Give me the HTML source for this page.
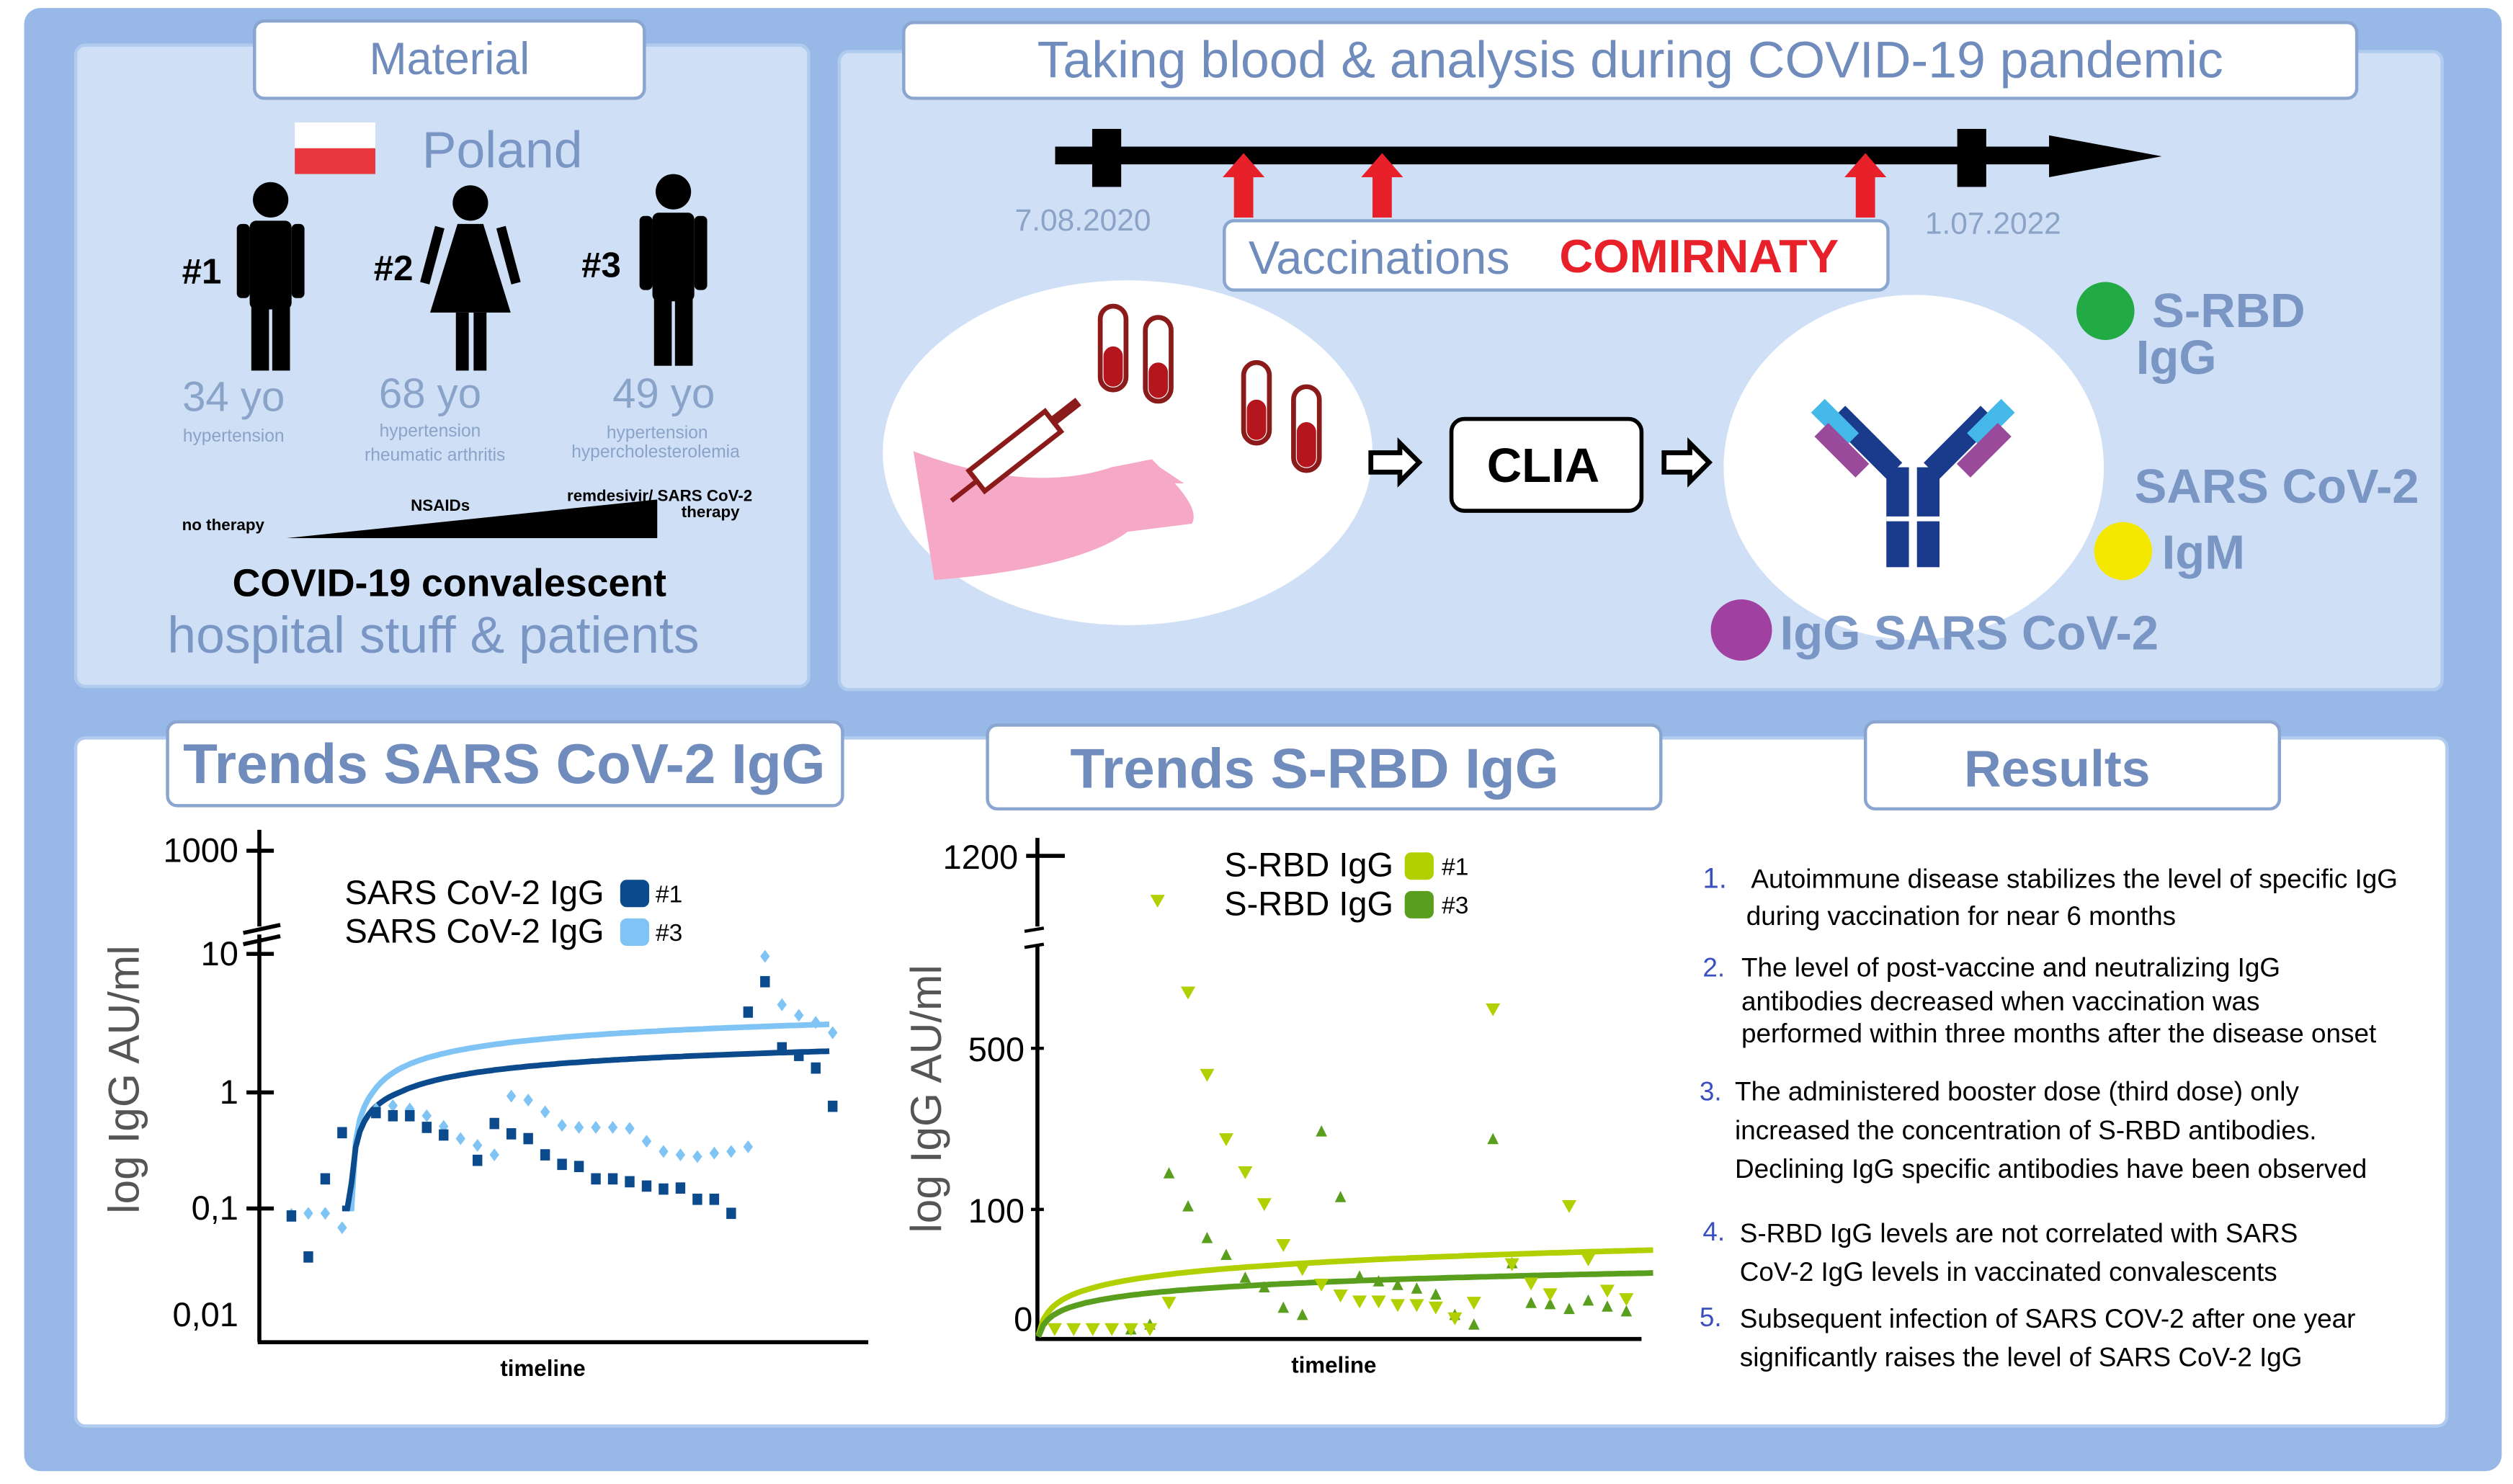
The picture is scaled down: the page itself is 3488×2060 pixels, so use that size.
<!DOCTYPE html>
<html><head><meta charset="utf-8"><style>
html,body{margin:0;padding:0;background:#fff}
svg{display:block}
text{font-family:"Liberation Sans",sans-serif}
</style></head><body>
<svg id="root" width="3488" height="2060" viewBox="0 0 1560 921" preserveAspectRatio="none" xmlns="http://www.w3.org/2000/svg">
<rect x="0" y="0" width="1560" height="921" fill="#fff"/>
<rect x="15" y="5" width="1538" height="908" rx="10" fill="#98b9e8"/>
<!-- top-left panel -->
<rect x="47" y="28" width="455" height="398" rx="6" fill="#cfe0f6" stroke="#b0cbee" stroke-width="2"/>
<rect x="521" y="32" width="995" height="396" rx="6" fill="#cfe0f6" stroke="#b0cbee" stroke-width="2"/>
<rect x="47" y="458" width="1472" height="427" rx="6" fill="#fff" stroke="#b0cbee" stroke-width="2"/>

<!-- titles -->
<g>
<rect x="158" y="13" width="242" height="48" rx="6" fill="#fff" stroke="#8aa6d0" stroke-width="2"/>
<text x="279" y="46" text-anchor="middle" font-size="28" fill="#6f8cbc">Material</text></g>
<g>
<rect x="561" y="14" width="902" height="47" rx="6" fill="#fff" stroke="#8aa6d0" stroke-width="2"/>
<text x="1012" y="48" text-anchor="middle" font-size="32" fill="#6f8cbc">Taking blood &amp; analysis during COVID-19 pandemic</text></g>
<g>
<rect x="104" y="448" width="419" height="52" rx="6" fill="#fff" stroke="#8aa6d0" stroke-width="2"/>
<text x="313" y="486" text-anchor="middle" font-size="35" font-weight="bold" fill="#6f8cbc">Trends SARS CoV-2 IgG</text></g>
<g>
<rect x="613" y="450" width="418" height="52" rx="6" fill="#fff" stroke="#8aa6d0" stroke-width="2"/>
<text x="816" y="489" text-anchor="middle" font-size="35" font-weight="bold" fill="#6f8cbc">Trends S-RBD IgG</text></g>
<g>
<rect x="1158" y="448" width="257" height="54" rx="6" fill="#fff" stroke="#8aa6d0" stroke-width="2"/>
<text x="1277" y="488" text-anchor="middle" font-size="32" font-weight="bold" fill="#6f8cbc">Results</text></g>

<!-- Material panel content -->
<g><rect x="183" y="76" width="50" height="16" fill="#fff"/><rect x="183" y="92" width="50" height="16" fill="#e8383d"/></g>
<text x="262" y="104" font-size="32" fill="#7a96c4">Poland</text>
<g fill="#000">
<circle cx="168" cy="124" r="11"/><rect x="155" y="137" width="26" height="55" rx="4"/><rect x="147" y="139" width="8" height="46" rx="3"/><rect x="181" y="139" width="8" height="46" rx="3"/><rect x="156" y="190" width="11" height="40"/><rect x="169" y="190" width="11" height="40"/></g>
<g fill="#000">
<circle cx="292" cy="126" r="11"/><path d="M284 139h16l17 55h-50z"/><rect x="270" y="141" width="6" height="36" transform="rotate(15 273 141)"/><rect x="308" y="141" width="6" height="36" transform="rotate(-15 311 141)"/><rect x="283" y="194" width="8" height="36"/><rect x="294" y="194" width="8" height="36"/></g>
<g fill="#000">
<circle cx="418" cy="119" r="11"/><rect x="405" y="132" width="26" height="55" rx="4"/><rect x="397" y="134" width="8" height="46" rx="3"/><rect x="431" y="134" width="8" height="46" rx="3"/><rect x="406" y="185" width="11" height="42"/><rect x="419" y="185" width="11" height="42"/></g>
<g font-size="22" font-weight="bold" fill="#000">
<text x="113" y="176">#1</text><text x="232" y="174">#2</text><text x="361" y="172">#3</text></g>
<g fill="#8aa3c8" text-anchor="middle">
<text x="145" y="255" font-size="26">34 yo</text><text x="145" y="274" font-size="11">hypertension</text>
<text x="267" y="253" font-size="26">68 yo</text><text x="267" y="271" font-size="11">hypertension</text><text x="270" y="286" font-size="11">rheumatic arthritis</text>
<text x="412" y="253" font-size="26">49 yo</text><text x="408" y="272" font-size="11">hypertension</text><text x="407" y="284" font-size="11">hypercholesterolemia</text></g>
<path d="M178 334 L408 310 L408 334 Z" fill="#000"/>
<g font-size="10" font-weight="bold" fill="#000">
<text x="113" y="329">no therapy</text><text x="255" y="317">NSAIDs</text><text x="352" y="311">remdesivir/ SARS CoV-2</text><text x="423" y="321">therapy</text></g>
<text x="279" y="370" text-anchor="middle" font-size="24" font-weight="bold" fill="#000">COVID-19 convalescent</text>
<text x="269" y="405" text-anchor="middle" font-size="32" fill="#7a96c4">hospital stuff &amp; patients</text>

<!-- timeline -->
<g>
<rect x="655" y="91" width="625" height="11" fill="#000"/><path d="M1272 84 L1342 97 L1272 110 Z" fill="#000"/>
<rect x="678" y="80" width="18" height="36" fill="#000"/><rect x="1215" y="80" width="18" height="36" fill="#000"/></g>
<g fill="#e8202a">
<path d="M759 110 L772 95 L785 110 L778 110 L778 135 L766 135 L766 110Z"/>
<path d="M845 110 L858 95 L871 110 L864 110 L864 135 L852 135 L852 110Z"/>
<path d="M1145 110 L1158 95 L1171 110 L1164 110 L1164 135 L1152 135 L1152 110Z"/></g>
<text x="630" y="143" font-size="19" fill="#8aa3c6">7.08.2020</text>
<text x="1195" y="145" font-size="19" fill="#8aa3c6">1.07.2022</text>
<g>
<rect x="760" y="137" width="412" height="43" rx="6" fill="#fff" stroke="#8aa6d0" stroke-width="2"/>
<text x="775" y="170" font-size="29" fill="#6f8cbc">Vaccinations</text>
<text x="968" y="169" font-size="29" font-weight="bold" fill="#e8202a">COMIRNATY</text></g>
<ellipse cx="700" cy="281" rx="152" ry="107" fill="#fff"/>
<ellipse cx="1188" cy="290" rx="118" ry="107" fill="#fff"/>
<g>
<path d="M567 280 C620 300 660 300 690 290 L715 285 C730 300 745 315 740 325 L700 330 C680 345 640 355 580 360 Z" fill="#f6a9c6"/>
<path d="M690 290 L720 290 L735 300 L690 300 Z" fill="#f6a9c6"/>
<g transform="rotate(-38 630 280)"><rect x="600" y="272" width="60" height="16" fill="#fff" stroke="#8b1a1a" stroke-width="3"/><rect x="660" y="277" width="20" height="6" fill="#8b1a1a"/><line x1="580" y1="280" x2="600" y2="280" stroke="#8b1a1a" stroke-width="3"/></g></g>
<g fill="#fff" stroke="#8b1a1a" stroke-width="3">
<rect x="683" y="190" width="16" height="52" rx="8"/><rect x="711" y="197" width="16" height="52" rx="8"/><rect x="772" y="225" width="16" height="50" rx="8"/><rect x="803" y="240" width="16" height="52" rx="8"/></g>
<g fill="#b5151c">
<rect x="685" y="215" width="12" height="25" rx="6"/><rect x="713" y="225" width="12" height="22" rx="6"/><rect x="774" y="248" width="12" height="25" rx="6"/><rect x="805" y="262" width="12" height="28" rx="6"/></g>
<g fill="#fff" stroke="#000" stroke-width="3">
<path d="M851 281 H869 V275 L881 287 L869 299 V293 H851 Z"/><path d="M1033 281 H1049 V275 L1061 287 L1049 299 V293 H1033 Z"/></g>
<g><rect x="901" y="260" width="118" height="57" rx="8" fill="#fff" stroke="#000" stroke-width="2.5"/>
<text x="958" y="299" text-anchor="middle" font-size="30" font-weight="bold" fill="#000">CLIA</text></g>
<g>
<rect x="1171" y="290" width="14" height="62" fill="#1a3a8c"/><rect x="1190" y="290" width="14" height="62" fill="#1a3a8c"/>
<line x1="1171" y1="322" x2="1204" y2="322" stroke="#fff" stroke-width="3"/>
<g transform="rotate(-45 1178 290)"><rect x="1168" y="240" width="14" height="50" fill="#1a3a8c"/><rect x="1164" y="228" width="12" height="30" fill="#44b8e8"/><rect x="1155" y="240" width="12" height="36" fill="#9a4a9a"/></g>
<g transform="rotate(45 1197 290)"><rect x="1193" y="240" width="14" height="50" fill="#1a3a8c"/><rect x="1199" y="228" width="12" height="30" fill="#44b8e8"/><rect x="1208" y="240" width="12" height="36" fill="#9a4a9a"/></g></g>
<g font-size="30" font-weight="bold" fill="#7a96c4">
<circle cx="1307" cy="193" r="18" fill="#22aa44"/><text x="1336" y="203">S-RBD</text><text x="1326" y="232">IgG</text>
<text x="1325" y="312">SARS CoV-2</text><circle cx="1318" cy="342" r="18" fill="#f5e800"/><text x="1342" y="353">IgM</text>
<circle cx="1081" cy="391" r="19" fill="#a040a0"/><text x="1105" y="403">IgG  SARS CoV-2</text></g>

<!-- Chart 1 -->
<g id="chart1"></g>
<g id="chart2"></g>

<!-- Results -->
<g font-size="16.5" fill="#000">
<text x="1057" y="551" fill="#3a4fc0" font-size="18">1.</text><text x="1087" y="551">Autoimmune disease stabilizes the level of specific IgG</text><text x="1084" y="574">during vaccination for near 6 months</text>
<text x="1057" y="606" fill="#3a4fc0">2.</text><text x="1081" y="606">The level of post-vaccine and neutralizing IgG</text><text x="1081" y="627">antibodies decreased when vaccination was</text><text x="1081" y="647">performed within three months after the disease onset</text>
<text x="1055" y="683" fill="#3a4fc0">3.</text><text x="1077" y="683">The administered booster dose (third dose) only</text><text x="1077" y="707">increased the concentration of S-RBD antibodies.</text><text x="1077" y="731">Declining IgG specific antibodies have been observed</text>
<text x="1057" y="770" fill="#3a4fc0">4.</text><text x="1080" y="771">S-RBD IgG levels are not correlated with SARS</text><text x="1080" y="795">CoV-2 IgG levels in vaccinated convalescents</text>
<text x="1055" y="823" fill="#3a4fc0">5.</text><text x="1080" y="824">Subsequent infection of SARS COV-2 after one year</text><text x="1080" y="848">significantly raises the level of SARS CoV-2 IgG</text></g>
</svg>
<script>
// ---------- Chart 1 data ----------
const c1Index = [0,1,2,3,4,5,6,7,8,9,10,11,12,13,14,15,16,17,18,19,20,21,22,23,24,25,26,27,28,29,30,31,32];
const c1P1 = [0.085,0.035,0.18,0.45,null,0.67,0.63,0.63,0.5,0.43,null,0.26,0.54,0.44,0.40,0.29,0.24,0.23,0.18,0.18,0.17,0.156,0.147,0.15,0.12,0.12,0.09,3.8,6.3,2.1,1.85,1.5,0.76];
const c1P3 = [0.088,0.09,0.09,0.066,null,0.72,0.77,0.72,0.63,0.51,0.40,0.35,0.29,0.93,0.86,0.68,0.52,0.5,0.5,0.5,0.49,0.38,0.31,0.29,0.28,0.3,0.31,0.34,9.6,4.3,3.6,3.2,2.7];
const c1FitA = [0.44,0.55];   // trend intercepts (#1, #3)
const c1FitB = [0.46,0.76];   // trend slopes vs ln(t)
const c1FitStart = 3;
const c1TickLabels = ["0,01","0,1","1","10","1000"];
const c1TickVals = [0.01,0.1,1,10,1000];

// ---------- Chart 2 data ----------
const c2X1 = [0,1,2,3,4,5,5.4,6,7,8,9,10,11,12,13,14,15,16,17,18,19,20,21,22,23,24,25,26,27,28,29,30];
const c2V1 = [0,0,0,0,0,0,1035,22,701,433,273,191,112,70,50,37,28,23,23,20,20,18,9,22,640,54,38,29,107,58,32,25];
const c2X3 = [4,5,6,7,8,9,10,11,12,13,14,15,16,17,18,19,20,21,22,23,24,25,26,27,28,29,30];
const c2V3 = [0,4,189,107,76,62,43,35,18,12,293,130,44,40,37,34,29,12,4,274,55,22,21,17,24,19,15];
const c2FitA = [20.3,12.7];
const c2FitB = [13.2,9.9];
const c2TickLabels = ["0","100","500","1200"];
const c2TickVals = [0,100,500,1200];

const NS="http://www.w3.org/2000/svg";
function mk(parent,tag,attrs){const e=document.createElementNS(NS,tag);for(const k in attrs)e.setAttribute(k,attrs[k]);parent.appendChild(e);return e;}

// Chart1 axes
const g1=document.getElementById('chart1');
const c1X=i=>180.9+i*10.5;
const c1LogPos=[[-2,816],[-1,750],[0,678],[1,592]];
function c1Y(v){if(v>=100)return 528;const l=Math.log10(v);
 for(let k=0;k<c1LogPos.length-1;k++){const a=c1LogPos[k],b=c1LogPos[k+1];if(l<=b[0]||k==c1LogPos.length-2){return a[1]+(l-a[0])/(b[0]-a[0])*(b[1]-a[1]);}}}
mk(g1,'line',{x1:161,y1:515,x2:161,y2:575,stroke:'#000','stroke-width':2.5});
mk(g1,'line',{x1:161,y1:580,x2:161,y2:833,stroke:'#000','stroke-width':2.5});
mk(g1,'line',{x1:151,y1:579,x2:174,y2:574,stroke:'#000','stroke-width':2.5});
mk(g1,'line',{x1:151,y1:586,x2:174,y2:581,stroke:'#000','stroke-width':2.5});
mk(g1,'line',{x1:160,y1:833,x2:539,y2:833,stroke:'#000','stroke-width':2.5});
c1TickVals.forEach((v,k)=>{const y=c1Y(v);
 if(k>0){const t=mk(g1,'line',{x1:153,y1:y,x2:170,y2:y,stroke:'#000','stroke-width':2.5});
 
 }
 const tx=mk(g1,'text',{x:148,y:y+7,'text-anchor':'end','font-size':21,fill:'#000'});tx.textContent=c1TickLabels[k];
 
 });
{const t=mk(g1,'text',{x:337,y:854,'text-anchor':'middle','font-size':14,'font-weight':'bold'});t.textContent='timeline';


const yt=mk(g1,'text',{x:0,y:0,transform:'translate(86,670) rotate(-90)','text-anchor':'middle','font-size':27,fill:'#555'});yt.textContent='log IgG  AU/ml';

}
// trend lines
[['#0b4a8c',0],['#7fc4f4',1]].reverse().forEach(([col,s])=>{let d='';
 for(let t=0.3;t<=c1Index[c1Index.length-1]-c1FitStart;t+=0.25){const v=Math.max(0.1,c1FitA[s]+c1FitB[s]*Math.log(t));d+=(d?'L':'M')+c1X(c1FitStart+t).toFixed(1)+' '+c1Y(v).toFixed(1);}
 const p=mk(g1,'path',{d:'M'+c1X(c1FitStart)+' '+c1Y(0.1)+' '+d.replace('M','L'),fill:'none',stroke:col,'stroke-width':3.5});
 
 });
c1Index.forEach((i,k)=>{const v=c1P3[k];if(v==null)return;const x=c1X(i),y=c1Y(v);
 const m=mk(g1,'path',{d:`M${x} ${y-4}L${x+3} ${y}L${x} ${y+4}L${x-3} ${y}Z`,fill:'#7fc4f4'});
 
 });
c1Index.forEach((i,k)=>{const v=c1P1[k];if(v==null)return;const x=c1X(i),y=c1Y(v);
 const m=mk(g1,'rect',{x:x-3,y:y-3.5,width:6,height:7,fill:'#0b4a8c'});
 
 });
// legend 1
[['SARS CoV-2 IgG','#0b4a8c','#1',557],['SARS CoV-2 IgG','#7fc4f4','#3',581]].forEach(([l,c,n,y])=>{
 const t=mk(g1,'text',{x:214,y:y+4,'font-size':21});t.textContent=l;
 
 
 const r=mk(g1,'rect',{x:385,y:y-11,width:18,height:17,rx:4,fill:c});
 
 
 const t2=mk(g1,'text',{x:407,y:y+3,'font-size':15});t2.textContent=n;
 
 });

// Chart2
const g2=document.getElementById('chart2');
const c2X=i=>654.7+i*11.83;
function c2Y(v){ if(v<=100)return 825.2-v*0.746; if(v<=500)return 750.6-(v-100)*0.25; return 650.6-(v-500)*0.1706;}
mk(g2,'line',{x1:644,y1:520,x2:644,y2:575,stroke:'#000','stroke-width':2.5});
mk(g2,'line',{x1:644,y1:587,x2:644,y2:832,stroke:'#000','stroke-width':2.5});
mk(g2,'line',{x1:636,y1:578,x2:648,y2:576,stroke:'#000','stroke-width':2});
mk(g2,'line',{x1:636,y1:588,x2:648,y2:586,stroke:'#000','stroke-width':2});
mk(g2,'line',{x1:643,y1:831,x2:1019,y2:831,stroke:'#000','stroke-width':2.5});
c2TickVals.forEach((v,k)=>{const y=v==0?818:c2Y(v);
 if(v==1200){const t=mk(g2,'line',{x1:637,y1:y,x2:661,y2:y,stroke:'#000','stroke-width':2.5});
 
 }
 else if(v>0){const t=mk(g2,'line',{x1:640,y1:y,x2:648,y2:y,stroke:'#000','stroke-width':2});
 
 }
 const tx=mk(g2,'text',{x:v==0?641:(v==1200?632:636),y:y+8,'text-anchor':'end','font-size':21});tx.textContent=c2TickLabels[k];
 
 });
{const t=mk(g2,'text',{x:828,y:852,'text-anchor':'middle','font-size':14,'font-weight':'bold'});t.textContent='timeline';


const yt=mk(g2,'text',{x:0,y:0,transform:'translate(584,682) rotate(-90)','text-anchor':'middle','font-size':27,fill:'#555'});yt.textContent='log IgG  AU/ml';

}
[['#b2d000',0],['#5a9e1e',1]].forEach(([col,s])=>{let d='';
 for(let t=-0.85;t<=31.5;t+=0.25){const v=c2FitA[s]+c2FitB[s]*Math.log(t+1);d+=(d?'L':'M')+c2X(t).toFixed(1)+' '+c2Y(v).toFixed(1);}
 const p=mk(g2,'path',{d,fill:'none',stroke:col,'stroke-width':3.5});
 
 });
c2X3.forEach((i,k)=>{const x=c2X(i),y=c2Y(c2V3[k]);
 const m=mk(g2,'path',{d:`M${x} ${y-4}L${x+3.5} ${y+3}L${x-3.5} ${y+3}Z`,fill:'#5a9e1e'});
 
 });
c2X1.forEach((i,k)=>{const x=c2X(i),y=c2Y(c2V1[k]);
 const m=mk(g2,'path',{d:`M${x-4.5} ${y-4}L${x+4.5} ${y-4}L${x} ${y+4}Z`,fill:'#b2d000'});
 
 });
[['S-RBD IgG','#b2d000','#1',540],['S-RBD IgG','#5a9e1e','#3',564]].forEach(([l,c,n,y])=>{
 const t=mk(g2,'text',{x:760,y:y+4,'font-size':21});t.textContent=l;
 
 
 const r=mk(g2,'rect',{x:872,y:y-11,width:18,height:17,rx:4,fill:c});
 
 
 const t2=mk(g2,'text',{x:895,y:y+3,'font-size':15});t2.textContent=n;
 
 });
</script>
</body></html>
